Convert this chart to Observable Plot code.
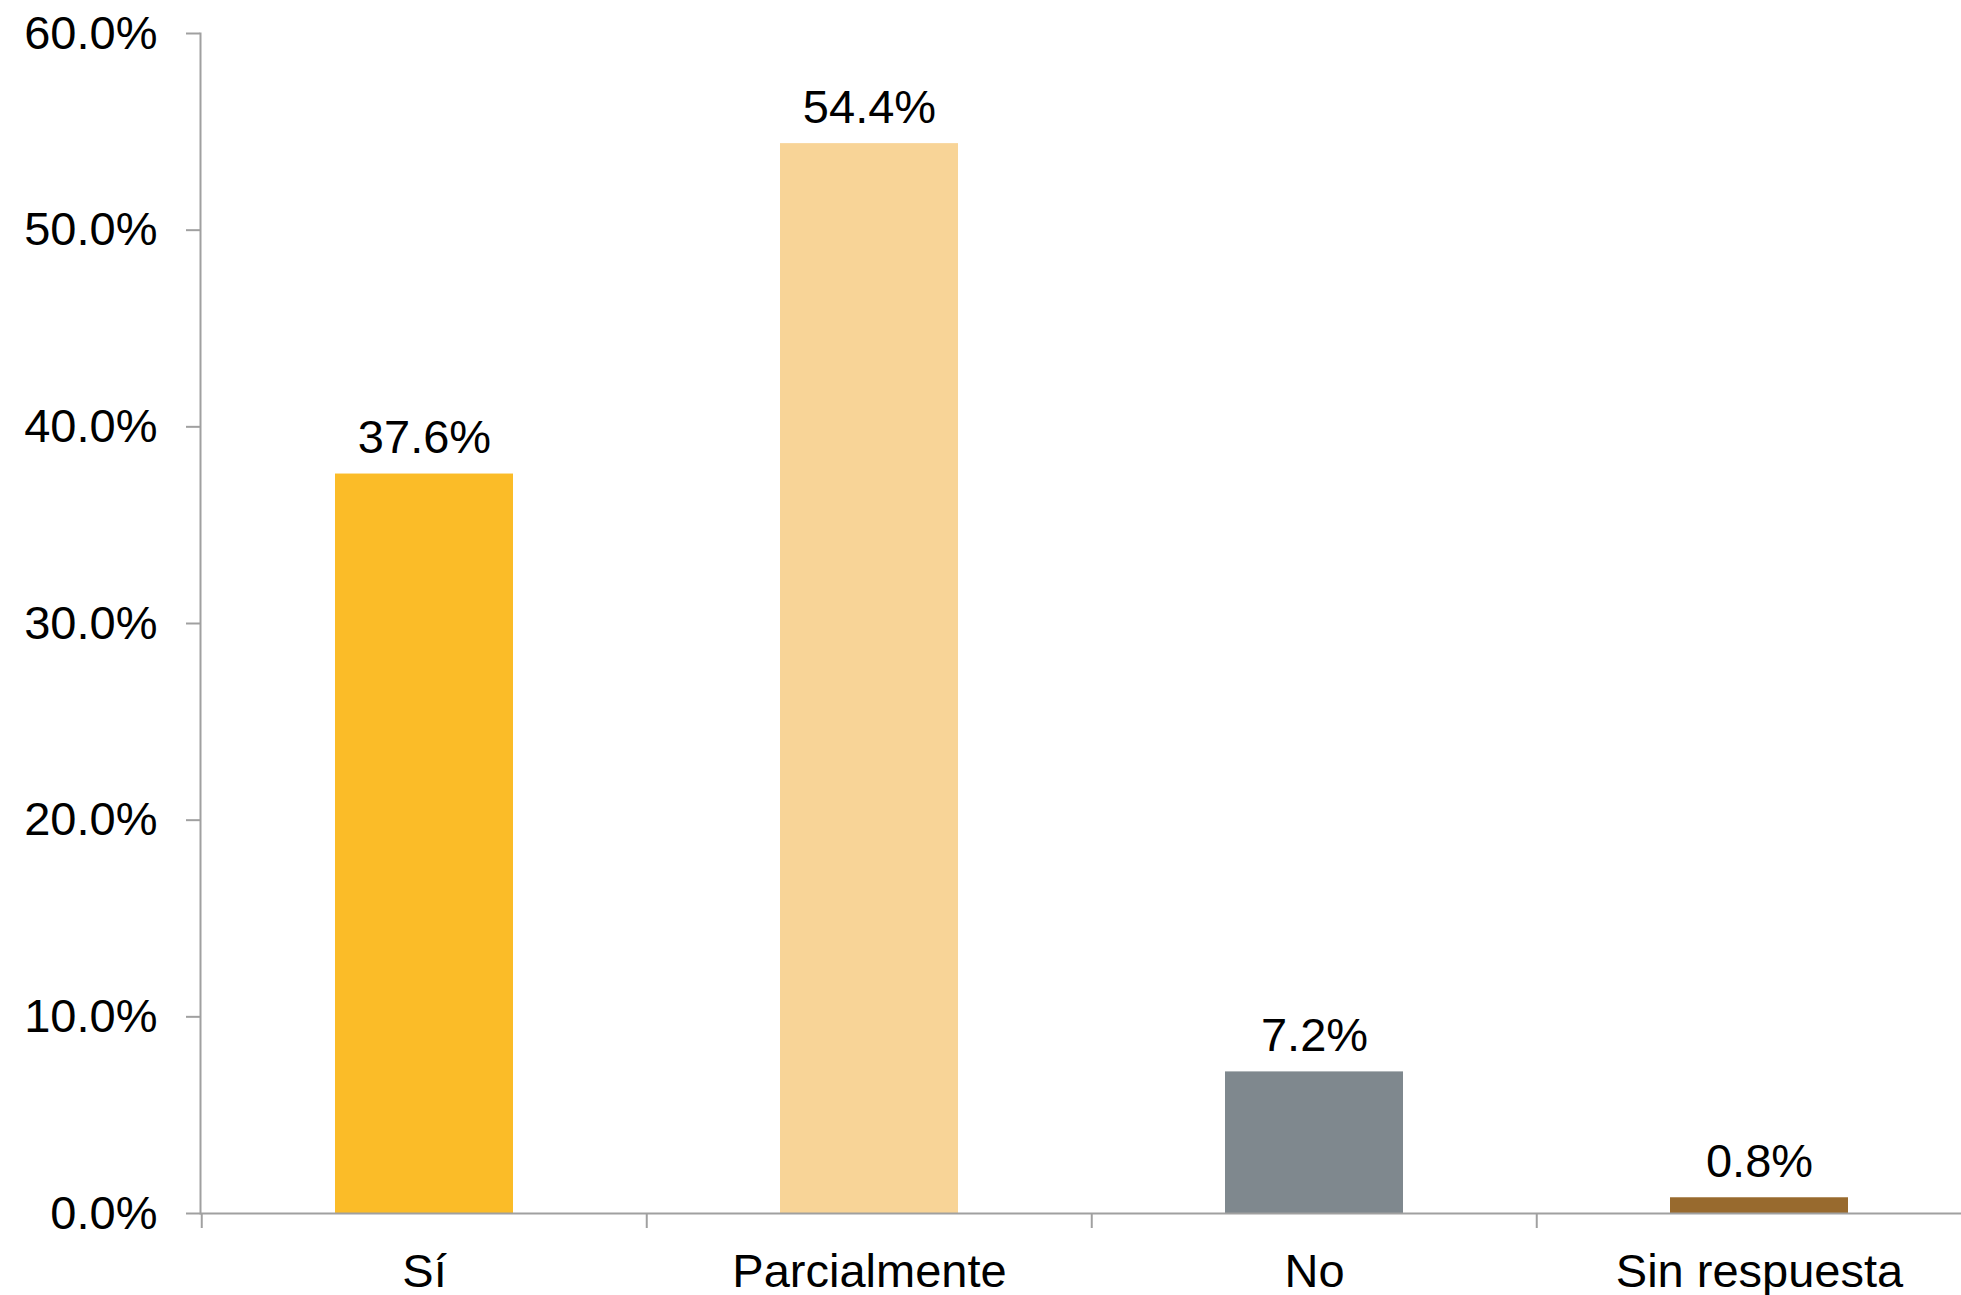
<!DOCTYPE html>
<html>
<head>
<meta charset="utf-8">
<script src="https://cdn.jsdelivr.net/npm/d3@7"></script>
<script src="https://cdn.jsdelivr.net/npm/@observablehq/plot@0.6"></script>
<style>
  html, body { margin: 0; padding: 0; background: #fff; }
  #chart svg { display: block; }
</style>
</head>
<body>
<div id="chart"></div>
<script>
const categories = ["Sí", "Parcialmente", "No", "Sin respuesta"];
const values = [37.6, 54.4, 7.2, 0.8];
const labels = ["37.6%", "54.4%", "7.2%", "0.8%"];
const colors = ["#FBBC28", "#F8D497", "#7F888E", "#986A2E"];
const yTicks = [0, 10, 20, 30, 40, 50, 60];

const data = categories.map((c, i) => ({cat: c, value: values[i], label: labels[i]}));

const W = 1961, H = 1295;
const xRange = [200, 1982];
const step = (xRange[1] - xRange[0]) / categories.length;
const axisColor = "#a0a0a0";
const font = "'Liberation Sans', Arial, sans-serif";

const chart = Plot.plot({
  width: W,
  height: H,
  marginLeft: 200,
  marginRight: 0,
  marginTop: 33,
  marginBottom: 82,
  style: {fontFamily: font, fontSize: "47px", color: "#000", background: "#fff", overflow: "visible"},
  x: {domain: categories, range: xRange, paddingInner: 0.6, paddingOuter: 0.3, axis: null, label: null},
  y: {domain: [0, 60], axis: null, label: null},
  color: {domain: categories, range: colors},
  marks: [
    Plot.barY(data, {x: "cat", y: "value", fill: "cat"}),
    Plot.frame({anchor: "left", stroke: axisColor, strokeWidth: 2}),
    Plot.axisY({ticks: yTicks, tickSize: 14, tickPadding: 29, stroke: axisColor, strokeWidth: 2, label: null,
      tickFormat: d => d.toFixed(1) + "%", fill: "#000", fontSize: 47}),
    Plot.ruleY([0], {stroke: axisColor, strokeWidth: 2}),
    Plot.axisX({tickSize: 15, dx: -step / 2, stroke: axisColor, strokeWidth: 2, tickFormat: null, text: null, label: null}),
    Plot.axisX({tickSize: 0, tickPadding: 40, fill: "#000", fontSize: 47, label: null}),
    Plot.text(data, {x: "cat", y: "value", text: "label", dy: -21, lineAnchor: "bottom", fill: "#000", fontSize: 47})
  ]
});
document.getElementById("chart").appendChild(chart);
</script>
</body>
</html>
